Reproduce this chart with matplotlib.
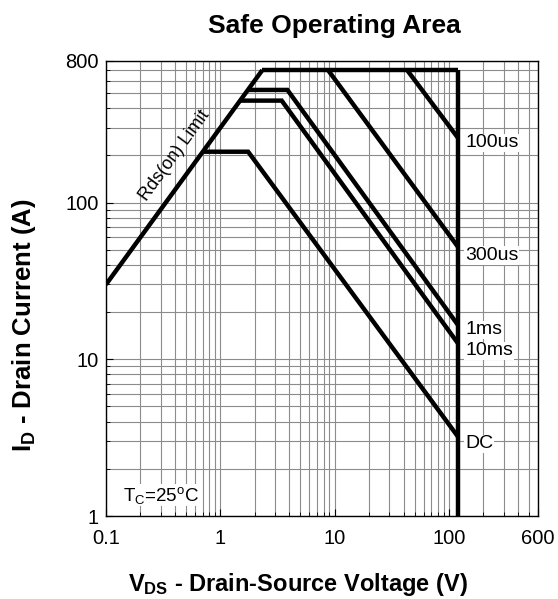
import matplotlib.pyplot as plt
from matplotlib.ticker import LogLocator, NullFormatter, FixedLocator, FixedFormatter

plt.rcParams['font.family'] = ['Liberation Sans', 'DejaVu Sans']
plt.rcParams['mathtext.fontset'] = 'custom'
plt.rcParams['mathtext.rm'] = 'Liberation Sans'
plt.rcParams['mathtext.it'] = 'Liberation Sans'
plt.rcParams['mathtext.bf'] = 'Liberation Sans:bold'

# SOA boundary lines (V_DS in volts, I_D in amps)
rds_v = [0.1, 2.33]
rds_i = [30, 700]
top_v = [2.33, 120]
top_i = [700, 700]
us100_v = [43, 120]
us100_i = [700, 258]
us300_v = [8.75, 120]
us300_i = [700, 52]
ms1_v = [1.75, 3.86, 120]
ms1_i = [523, 523, 16.5]
ms10_v = [1.5, 3.44, 120]
ms10_i = [447, 447, 12.6]
dc_v = [0.71, 1.75, 120]
dc_i = [211, 211, 3.2]
vmax_v = [120, 120]
vmax_i = [700, 1]

curve_labels = ['100us', '300us', '1ms', '10ms', 'DC']
label_i = [240, 46, 15.4, 11.3, 2.88]

x_ticks = [0.1, 1, 10, 100, 600]
x_tick_labels = ['0.1', '1', '10', '100', '600']
y_ticks = [1, 10, 100, 800]
y_tick_labels = ['1', '10', '100', '800']

W, H = 558, 599
fig = plt.figure(figsize=(W / 100, H / 100), dpi=100)
ax = fig.add_axes([106 / W, 1 - 516 / H, 432 / W, (516 - 61) / H])
ax.set_xscale('log')
ax.set_yscale('log')
ax.set_xlim(0.1, 600)
ax.set_ylim(1, 800)

ax.xaxis.set_minor_locator(LogLocator(base=10, subs=range(2, 10)))
ax.yaxis.set_minor_locator(LogLocator(base=10, subs=range(2, 10)))
ax.xaxis.set_minor_formatter(NullFormatter())
ax.yaxis.set_minor_formatter(NullFormatter())
ax.xaxis.set_major_locator(FixedLocator(x_ticks))
ax.xaxis.set_major_formatter(FixedFormatter(x_tick_labels))
ax.yaxis.set_major_locator(FixedLocator(y_ticks))
ax.yaxis.set_major_formatter(FixedFormatter(y_tick_labels))
ax.grid(which='both', color='#8c8c8c', linewidth=0.8)
ax.tick_params(which='both', direction='in', labelsize=14.5, color='black')
ax.tick_params(which='major', length=5)
ax.tick_params(which='minor', length=3)
ax.tick_params(axis='x', which='major', pad=9)
ax.tick_params(axis='y', which='major', pad=5)
for s in ax.spines.values():
    s.set_linewidth(1.0)

lw = 3.2
for v, i in [(rds_v, rds_i), (top_v, top_i), (us100_v, us100_i), (us300_v, us300_i),
             (ms1_v, ms1_i), (ms10_v, ms10_i), (dc_v, dc_i), (vmax_v, vmax_i)]:
    ax.plot(v, i, color='black', linewidth=lw, solid_capstyle='butt', solid_joinstyle='miter', zorder=3)

for lab, y in zip(curve_labels, label_i):
    ax.text(138, y, lab, fontsize=14, ha='left', va='center', zorder=4,
            bbox=dict(facecolor='white', edgecolor='none', pad=0.5))

ax.text(0.40, 201, 'Rds(on) Limit', fontsize=13, rotation=54, ha='center', va='center',
        rotation_mode='anchor', zorder=4)
ax.text(0.141, 1.36, r'T$_C$=25$^o$C', fontsize=13.5, ha='left', va='center', zorder=4,
        bbox=dict(facecolor='white', edgecolor='none', pad=0.5))

fig.text(334 / W, 1 - 26 / H, 'Safe Operating Area', fontsize=19, fontweight='bold',
         ha='center', va='center')
fig.text(298 / W, 1 - 584 / H, r'$\mathbf{V_{DS}}$ - Drain-Source Voltage (V)', fontsize=17,
         fontweight='bold', ha='center', va='center')
fig.text(24 / W, 1 - 325 / H, r'$\mathbf{I_D}$ - Drain Current (A)', fontsize=18.5,
         fontweight='bold', ha='center', va='center', rotation=90)

fig.savefig('out.png', dpi=100)
